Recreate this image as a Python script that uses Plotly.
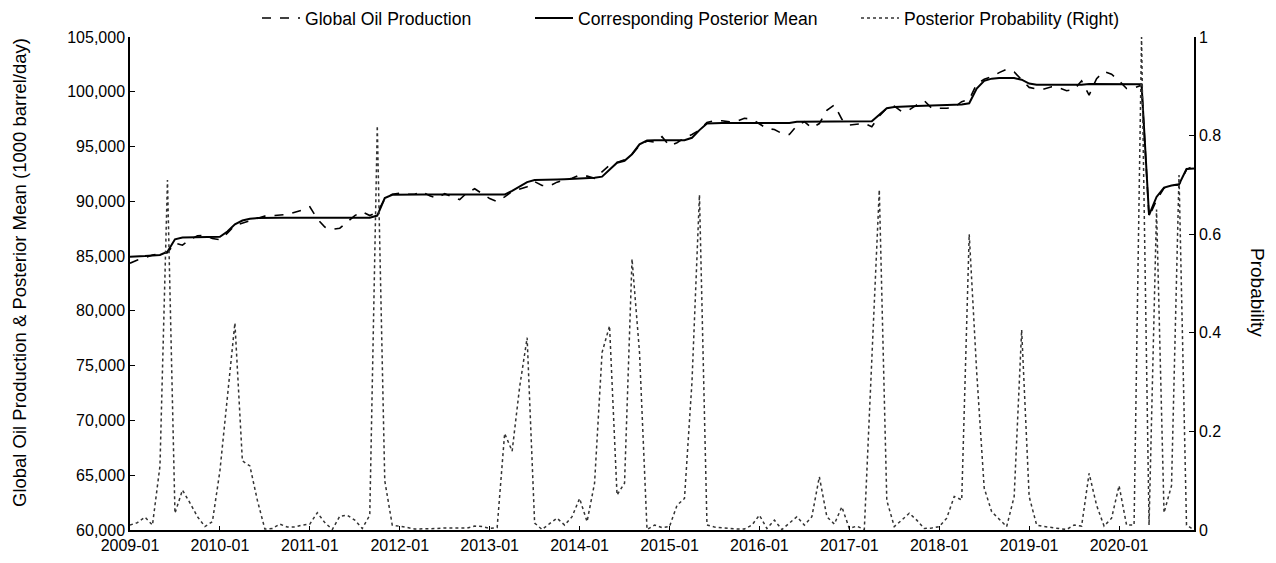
import plotly.graph_objects as go

# Monthly categories 2009-01 .. 2020-11
months = [f"{y}-{m:02d}" for y in range(2009, 2021) for m in range(1, 13)][:143]
tick_labels = [f"{y}-01" for y in range(2009, 2021)]

production = [
    84350, 84650, 84850, 85100, 85200, 85300, 86200, 86000, 86500, 86850, 86900, 86600,
    86500, 87100, 87800, 88000, 88250, 88450, 88650, 88700, 88750, 88800, 89000, 89200,
    89500, 88400, 87650, 87450, 87550, 88100, 88700, 89050, 88700, 89000, 90200, 90650,
    90750, 90650, 90650, 90880, 90500, 90300, 90700, 90400, 90150, 90800, 91150, 90700,
    90250, 89980, 90400, 90900, 91150, 91330, 91800, 91450, 91400, 91750, 91950, 92100,
    92400, 92300, 92100, 92700, 93300, 93550, 93800, 94300, 95100, 95500, 95400, 95900,
    95050, 95350, 95800, 96100, 96500, 97200, 97350, 97350, 97250, 97300, 97580, 97500,
    97100, 96650, 96550, 96200, 96100, 96900, 97270, 96700, 97100, 98300, 98800, 97500,
    96960, 97050, 97120, 96810, 97800, 98500, 98700, 98180, 98350, 98800, 99190, 98490,
    98490, 98500, 98580, 99100, 99300, 100700, 101140, 101380, 101750, 102050, 101800, 101100,
    100400, 100250, 100250, 100450, 100350, 100100, 100200, 101000, 99700, 101200, 101850, 101600,
    101000, 100300, 100350, 100600, 88600, 90100, 91200, 91450, 91500, 92900, 93250,
]

posterior = [
    84950, 84950, 85000, 85050, 85100, 85400, 86530, 86700, 86720, 86720, 86720, 86720,
    86760, 87250, 87900, 88250, 88400, 88470, 88500, 88500, 88500, 88500, 88500, 88500,
    88500, 88500, 88500, 88500, 88500, 88500, 88500, 88500, 88500, 88700, 90300, 90600,
    90620, 90620, 90620, 90620, 90620, 90620, 90620, 90620, 90620, 90620, 90620, 90620,
    90620, 90620, 90620, 90950, 91350, 91750, 91950, 91950, 91980, 92000, 92020, 92050,
    92080, 92100, 92150, 92250, 92900, 93530, 93700, 94300, 95200, 95550, 95580, 95580,
    95580, 95580, 95580, 95800, 96500, 97100, 97150, 97150, 97150, 97150, 97150, 97150,
    97150, 97150, 97150, 97150, 97150, 97270, 97270, 97270, 97270, 97270, 97270, 97270,
    97270, 97270, 97270, 97300, 97900, 98500, 98600, 98650, 98680, 98700, 98720, 98750,
    98780, 98800, 98820, 98850, 98950, 100300, 101000, 101200, 101250, 101250, 101250, 101100,
    100750, 100650, 100650, 100650, 100650, 100650, 100650, 100650, 100720, 100720, 100720, 100720,
    100720, 100720, 100700, 100680, 88750, 90400, 91250, 91450, 91550, 92950, 93000,
]

probability = [
    0.01, 0.015, 0.026, 0.01, 0.13, 0.71, 0.034, 0.081, 0.055, 0.027, 0.007, 0.017,
    0.12, 0.27, 0.42, 0.14, 0.13, 0.06, 0.002, 0.003, 0.012, 0.006, 0.006, 0.01,
    0.012, 0.035, 0.015, 0.001, 0.028, 0.03, 0.02, 0.003, 0.03, 0.82, 0.10, 0.01,
    0.008, 0.005, 0.002, 0.002, 0.003, 0.003, 0.004, 0.004, 0.003, 0.004, 0.008, 0.007,
    0.003, 0.005, 0.196, 0.16, 0.29, 0.39, 0.014, 0.001, 0.013, 0.024, 0.01, 0.027,
    0.064, 0.017, 0.095, 0.36, 0.414, 0.071, 0.095, 0.55, 0.36, 0.001, 0.01, 0.005,
    0.007, 0.05, 0.064, 0.30, 0.68, 0.01, 0.006, 0.004, 0.003, 0.002, 0.002, 0.01,
    0.03, 0.003, 0.02, 0.001, 0.015, 0.027, 0.01, 0.027, 0.108, 0.027, 0.012, 0.047,
    0.003, 0.008, 0.001, 0.33, 0.69, 0.06, 0.007, 0.02, 0.034, 0.02, 0.003, 0.004,
    0.007, 0.024, 0.068, 0.061, 0.60, 0.32, 0.085, 0.037, 0.022, 0.007, 0.068, 0.406,
    0.068, 0.01, 0.007, 0.005, 0.004, 0.001, 0.01, 0.008, 0.115, 0.05, 0.008, 0.024,
    0.09, 0.01, 0.01, 1.0, 0.01, 0.65, 0.035, 0.09, 0.72, 0.01, 0.0,
]

FONT = "Liberation Sans"
# The page body has an 8px margin, so the figure starts at (8, 8) on screen.
OFF = 8
W, H = 1276 - OFF, 563 - OFF
PL, PR, PT, PB = 130, 1194, 37, 530          # plot area in screen pixels
L, R, T, B = PL - OFF, 1276 - PR, PT - OFF, 563 - PB
PW, PH = PR - PL, PB - PT


def px_x(px):
    return (px - PL) / PW


def px_y(py):
    return (PB - py) / PH


legend_font = dict(size=17.6, family=FONT, color="black")

fig = go.Figure()
fig.add_trace(go.Scatter(
    x=months, y=production, name="Global Oil Production", mode="lines",
    line=dict(color="black", width=1.6, dash="dash"), legend="legend",
))
fig.add_trace(go.Scatter(
    x=months, y=posterior, name="Corresponding Posterior Mean", mode="lines",
    line=dict(color="black", width=2), legend="legend2",
))
fig.add_trace(go.Scatter(
    x=months, y=probability, name="Posterior Probability (Right)", mode="lines",
    line=dict(color="#333333", width=1.5, dash="dot"), yaxis="y2", legend="legend3",
))

leg_common = dict(orientation="h", yanchor="middle", xanchor="left", itemwidth=38,
                  font=legend_font, bgcolor="rgba(0,0,0,0)")

fig.update_layout(
    width=W, height=H,
    margin=dict(l=L, r=R, t=T, b=B, autoexpand=False),
    paper_bgcolor="white", plot_bgcolor="white",
    font=dict(family=FONT, size=16, color="black"),
    showlegend=True,
    legend=dict(x=px_x(257), y=px_y(18), **leg_common),
    legend2=dict(x=px_x(530), y=px_y(18), **leg_common),
    legend3=dict(x=px_x(856), y=px_y(18), **leg_common),
    xaxis=dict(
        type="category", range=[0, 142], tickmode="array",
        tickvals=tick_labels, ticktext=tick_labels,
        showline=True, linecolor="black", linewidth=1.5,
        ticks="inside", ticklen=4, tickcolor="black",
        showgrid=False, zeroline=False,
    ),
    yaxis=dict(
        range=[60000, 105000], dtick=5000, tickformat=",",
        showline=True, linecolor="black", linewidth=1.5,
        ticks="inside", ticklen=5, tickcolor="black",
        showgrid=False, zeroline=False,
    ),
    yaxis2=dict(
        overlaying="y", side="right", range=[0, 1], dtick=0.2,
        showline=True, linecolor="black", linewidth=1.5,
        ticks="inside", ticklen=5, tickcolor="black",
        showgrid=False, zeroline=False,
    ),
    annotations=[
        dict(text="Global Oil Production & Posterior Mean (1000 barrel/day)",
             xref="paper", yref="paper", x=px_x(19), y=px_y(273), textangle=-90,
             showarrow=False, font=dict(size=18.5), xanchor="center", yanchor="middle"),
        dict(text="Probability", xref="paper", yref="paper", x=px_x(1258), y=px_y(292),
             textangle=90, showarrow=False, font=dict(size=19),
             xanchor="center", yanchor="middle"),
    ],
)

fig.write_html("out.html")
